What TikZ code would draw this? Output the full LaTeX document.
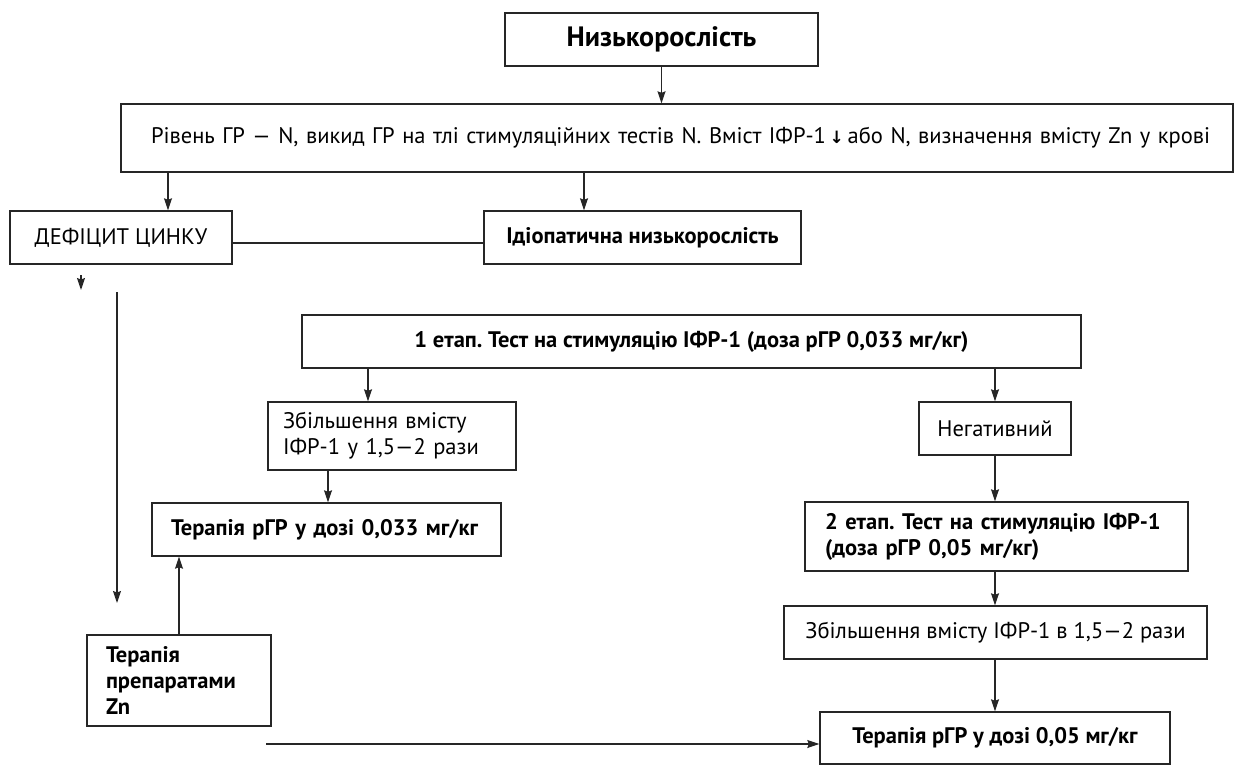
\documentclass[tikz,border=0pt]{standalone}
\usepackage{fontspec}
\setmainfont{PT Sans}
\newfontfamily\arrowfont{DejaVu Sans}
\usetikzlibrary{arrows.meta}
\frenchspacing
\tikzset{
  box/.style={draw=black!85, line width=1.4pt, inner sep=0pt, font=\fontsize{22.5}{26}\selectfont, align=center},
  bbox/.style={box, font=\bfseries\fontsize{22.5}{26}\selectfont},
  arr/.style={-{Stealth[length=12pt,width=8pt,inset=1.5pt]}, line width=1.2pt, draw=black!85},
  ln/.style={line width=1.2pt, draw=black!85}
}
\begin{document}
\begin{tikzpicture}[x=1pt,y=-1pt]
\useasboundingbox (0,0) rectangle (1235,781);
\node[bbox, font=\bfseries\fontsize{28}{31}\selectfont, minimum width=313pt, minimum height=53pt] (title) at (661.5,39.5) {Низькорослість};
\node[box, minimum height=68pt, text width=1052pt, inner xsep=30pt, align=left] (info) at (677,138) {\mbox{Рівень ГР — N, викид ГР на тлі стимуляційних тестів N. Вміст ІФР-1\,{\arrowfont\bfseries\fontsize{17}{17}\selectfont↓}\,або N, визначення вмісту Zn у крові}};
\node[box, minimum width=222pt, minimum height=53pt] (def) at (121,237.5) {ДЕФІЦИТ ЦИНКУ};
\node[bbox, minimum width=317pt, minimum height=53pt] (idio) at (642.5,237.5) {Ідіопатична низькорослість};
\node[bbox, minimum width=779pt, minimum height=53pt] (st1) at (691.5,341.5) {1 етап. Тест на стимуляцію ІФР-1 (доза рГР 0,033 мг/кг)};
\node[box, minimum height=68pt, text width=218pt, inner xsep=15pt, align=left] (inc1) at (392,436) {Збільшення вмісту\\ІФР-1 у 1,5—2 рази};
\node[box, minimum width=152pt, minimum height=53pt] (neg) at (995,428.5) {Негативний};
\node[bbox, minimum height=53pt, text width=311pt, inner xsep=19pt, align=left] (th1) at (326.5,529.5) {Терапія рГР у дозі 0,033 мг/кг};
\node[bbox, minimum height=91pt, text width=146pt, inner xsep=19pt, align=left] (zn) at (179,680.5) {Терапія\\препаратами\\Zn};
\node[bbox, minimum height=69pt, text width=343pt, inner xsep=20pt, align=left] (st2) at (996.5,536.5) {2 етап. Тест на стимуляцію ІФР-1\\(доза рГР 0,05 мг/кг)};
\node[box, minimum width=423pt, minimum height=53pt] (inc2) at (995.5,632.5) {Збільшення вмісту ІФР-1 в 1,5—2 рази};
\node[bbox, minimum width=350pt, minimum height=52pt] (th2) at (995,738) {Терапія рГР у дозі 0,05 мг/кг};
% coordinates
\coordinate (xa) at (168,0);
\coordinate (xb) at (584,0);
\coordinate (xc) at (368,0);
\coordinate (xd) at (328,0);
\coordinate (yl) at (0,243);
\coordinate (s1) at (81,275);
\coordinate (s2) at (81,290);
\coordinate (l1) at (117,292);
\coordinate (l2) at (117,603);
\coordinate (h1) at (266,744);
% connectors
\draw[arr] (title.south) -- (info.north -| title.south);
\draw[arr] (info.south -| xa) -- (def.north -| xa);
\draw[arr] (info.south -| xb) -- (idio.north -| xb);
\draw[ln] (def.east |- yl) -- (idio.west |- yl);
\draw[arr] (s1) -- (s2);
\draw[arr] (l1) -- (l2);
\draw[arr] (st1.south -| xc) -- (inc1.north -| xc);
\draw[arr] (st1.south -| neg.north) -- (neg.north);
\draw[arr] (inc1.south -| xd) -- (th1.north -| xd);
\draw[arr] (zn.north) -- (th1.south -| zn.north);
\draw[arr] (neg.south) -- (st2.north -| neg.south);
\draw[arr] (st2.south -| neg.south) -- (inc2.north -| neg.south);
\draw[arr] (inc2.south -| neg.south) -- (th2.north -| neg.south);
\draw[arr] (h1) -- (th2.west |- h1);
\end{tikzpicture}
\end{document}
